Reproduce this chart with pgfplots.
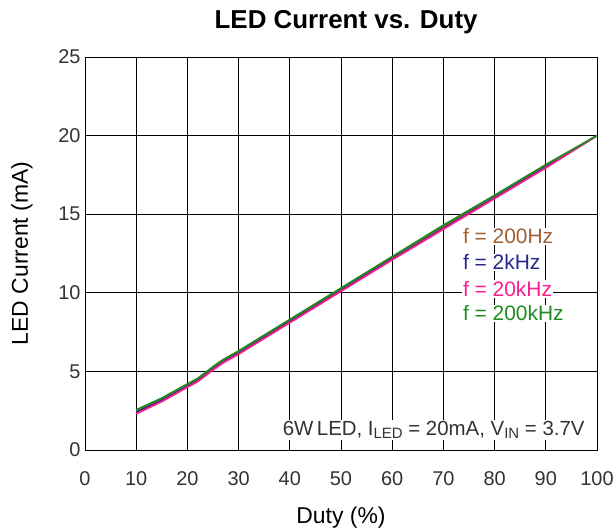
\documentclass[border=0pt]{standalone}
\usepackage{pgfplots}
\pgfplotsset{compat=1.18}
\usepackage{fontspec}
\setmainfont{Liberation Sans}
\definecolor{cbrown}{RGB}{160,95,50}
\definecolor{cnavy}{RGB}{40,40,140}
\definecolor{cpink}{RGB}{250,30,140}
\definecolor{cgreen}{RGB}{30,140,30}
\begin{document}
\begin{tikzpicture}
\begin{axis}[
  scale only axis, width=512bp, height=393bp,
  xmin=0, xmax=100, ymin=0, ymax=25,
  xtick={0,10,...,100}, ytick={0,5,...,25},
  grid=major, major grid style={black, line width=0.9pt},
  axis line style={black, line width=1pt},
  tick style={draw=none},
  /pgf/number format/assume math mode=true,
  ticklabel style={font=\fontsize{20}{24}\selectfont, text=black!80},
  xticklabel style={yshift=-18bp},
  yticklabel style={xshift=-1bp},
  xlabel={Duty (\%)}, ylabel={LED Current (mA)},
  label style={font=\fontsize{23}{27}\selectfont},
  xlabel style={at={(axis description cs:0.5,-0.172)}, anchor=center},
  ylabel style={at={(axis description cs:-0.123,0.5)}, anchor=center},
  title={LED Current vs. Duty},
  title style={font=\bfseries\fontsize{26}{30}\selectfont, at={(axis description cs:0.51,1.074)}, anchor=center},
  clip=false,
]
\addplot[cbrown, line width=1.8pt] coordinates {(10,2.45) (12,2.75) (15,3.2) (20,4.1) (22,4.45) (25,5.2) (27,5.65) (30,6.2) (40,8.2) (50,10.2) (60,12.2) (70,14.2) (80,16.1) (90,18.05) (100,20.0)};
\addplot[cnavy, line width=1.8pt] coordinates {(10,2.4) (12,2.7) (15,3.15) (20,4.05) (22,4.4) (25,5.15) (27,5.6) (30,6.15) (40,8.15) (50,10.15) (60,12.15) (70,14.1) (80,16.05) (90,18.0) (100,20.0)};
\addplot[cpink, line width=1.8pt] coordinates {(10,2.3) (12,2.62) (15,3.08) (20,4.0) (22,4.35) (25,5.1) (27,5.55) (30,6.1) (40,8.1) (50,10.1) (60,12.1) (70,14.05) (80,16.0) (90,17.95) (100,20.0)};
\addplot[cgreen, line width=1.8pt] coordinates {(10,2.55) (12,2.85) (15,3.3) (20,4.2) (22,4.55) (25,5.3) (27,5.75) (30,6.3) (40,8.3) (50,10.3) (60,12.3) (70,14.3) (80,16.2) (90,18.15) (100,20.0)};
\node[anchor=west, fill=white, inner sep=1pt, text=cbrown, font=\fontsize{21}{24}\selectfont] at (axis cs:73.6,13.6) {f = 200Hz};
\node[anchor=west, fill=white, inner sep=1pt, text=cnavy, font=\fontsize{21}{24}\selectfont] at (axis cs:73.6,11.95) {f = 2kHz};
\node[anchor=west, fill=white, inner sep=1pt, text=cpink, font=\fontsize{21}{24}\selectfont] at (axis cs:73.6,10.25) {f = 20kHz};
\node[anchor=west, fill=white, inner sep=1pt, text=cgreen, font=\fontsize{21}{24}\selectfont] at (axis cs:73.6,8.7) {f = 200kHz};
\node[anchor=east, fill=white, inner sep=2pt, text=black!80, font=\fontsize{20.5}{24}\selectfont] at (axis cs:98,1.27) {6W\,LED, I\raisebox{-2.5pt}{\fontsize{15}{16}\selectfont LED} = 20mA, V\raisebox{-2.5pt}{\fontsize{15}{16}\selectfont IN} = 3.7V};
\coordinate (ll) at (rel axis cs:0,0);
\coordinate (ur) at (rel axis cs:1,1);
\end{axis}
\pgfresetboundingbox
\path ([xshift=-85bp,yshift=-80bp]ll) rectangle ([xshift=19bp,yshift=57bp]ur);
\end{tikzpicture}
\end{document}
